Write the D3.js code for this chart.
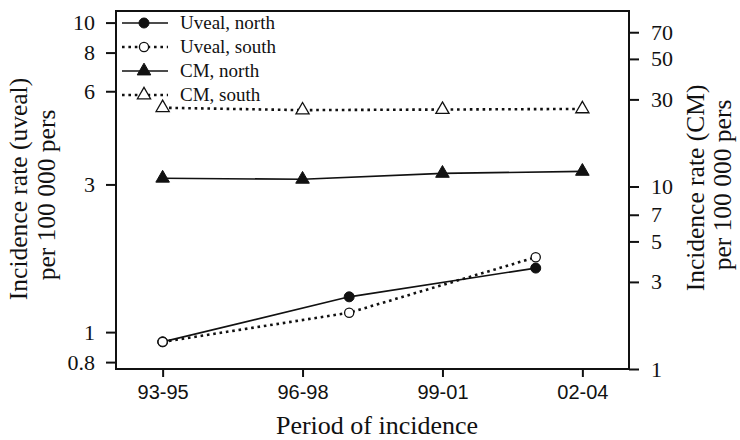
<!DOCTYPE html>
<html>
<head>
<meta charset="utf-8">
<script src="https://cdn.jsdelivr.net/npm/d3@7/dist/d3.min.js"></script>
<style>
  html, body { margin: 0; padding: 0; background: #fff; }
  svg { display: block; }
  .serif { font-family: "Liberation Serif", "Times New Roman", serif; fill: #111; }
  .sans { font-family: "Liberation Sans", Arial, sans-serif; fill: #111; }
</style>
</head>
<body>
<svg id="chart" width="740" height="440"></svg>
<script>
// Period labels on the x axis and their mid-years (1900-based)
const periodLabels = ["93-95", "96-98", "99-01", "02-04"];
const periodMid = [94, 97, 100, 103];

// Cutaneous melanoma (CM) incidence per 100 000, right axis
const cmNorth = [11.1, 10.95, 11.8, 12.1];
const cmSouth = [27.0, 26.2, 26.4, 26.6];

// Uveal melanoma incidence per 100 000, left axis (4-year periods)
const uvealYears = [94, 98, 102];
const uvealNorth = [0.93, 1.30, 1.61];
const uvealSouth = [0.93, 1.155, 1.745];

// Axis tick values
const leftTicks = [0.8, 1, 3, 6, 8, 10];
const rightTicks = [1, 3, 5, 7, 10, 30, 50, 70];

const legendItems = [
  { label: "Uveal, north", dotted: false, shape: "circle", filled: true },
  { label: "Uveal, south", dotted: true, shape: "circle", filled: false },
  { label: "CM, north", dotted: false, shape: "triangle", filled: true },
  { label: "CM, south", dotted: true, shape: "triangle", filled: false }
];

const svg = d3.select("#chart");
const box = { left: 116, right: 629, top: 11, bottom: 369 };

const x = d3.scaleLinear().domain([93, 104]).range([box.left, box.right]);
const yL = d3.scaleLog().domain([0.76, 10.9]).range([box.bottom, box.top]);
const yR = d3.scaleLog().domain([1, 91.5]).range([box.bottom, box.top]);

const INK = "#111";

// Plot frame
svg.append("rect")
  .attr("x", box.left).attr("y", box.top)
  .attr("width", box.right - box.left).attr("height", box.bottom - box.top)
  .attr("fill", "none").attr("stroke", INK).attr("stroke-width", 2);

// Axes
function styleAxis(g, cls) {
  g.select(".domain").remove();
  g.selectAll(".tick line").attr("stroke", INK).attr("stroke-width", 2);
  g.selectAll(".tick text").attr("class", cls).attr("fill", INK);
}

const xAxis = d3.axisBottom(x)
  .tickValues(periodMid)
  .tickFormat((d, i) => periodLabels[i])
  .tickSize(8).tickPadding(8);
svg.append("g").attr("transform", `translate(0,${box.bottom})`).call(xAxis)
  .call(g => styleAxis(g, "sans"))
  .selectAll("text").style("font-size", "20px");

const leftAxis = d3.axisLeft(yL)
  .tickValues(leftTicks).tickFormat(d3.format("~g"))
  .tickSize(10).tickPadding(11);
svg.append("g").attr("transform", `translate(${box.left},0)`).call(leftAxis)
  .call(g => styleAxis(g, "serif"))
  .selectAll("text").style("font-size", "22px");

const rightAxis = d3.axisRight(yR)
  .tickValues(rightTicks).tickFormat(d3.format("~g"))
  .tickSize(10).tickPadding(12);
svg.append("g").attr("transform", `translate(${box.right},0)`).call(rightAxis)
  .call(g => styleAxis(g, "serif"))
  .selectAll("text").style("font-size", "22px");

// Axis titles
svg.append("text").attr("class", "serif")
  .attr("x", 377).attr("y", 434).attr("text-anchor", "middle")
  .style("font-size", "26px").text("Period of incidence");

// Rotated two-line titles: each line gets its own baseline (x) and centre (y)
function vLine(baseX, centerY, s) {
  svg.append("text").attr("class", "serif")
    .attr("transform", `translate(${baseX},${centerY}) rotate(-90)`)
    .attr("text-anchor", "middle").style("font-size", "25.5px").text(s);
}
vLine(27, 189, "Incidence rate (uveal)");
vLine(55, 195, "per 100 000 pers");
vLine(704, 188, "Incidence rate (CM)");
vLine(731, 185, "per 100 000 pers");

// Series drawing
const DOTTED = "2.6 3.8";
function drawLine(xs, ys, yScale, dotted) {
  const pts = xs.map((v, i) => [x(v), yScale(ys[i])]);
  svg.append("path")
    .attr("d", d3.line()(pts))
    .attr("fill", "none").attr("stroke", INK)
    .attr("stroke-width", dotted ? 2.6 : 1.6)
    .attr("stroke-dasharray", dotted ? DOTTED : null);
  return pts;
}
function marker(g, cx, cy, shape, filled) {
  if (shape === "circle") {
    g.append("circle").attr("cx", cx).attr("cy", cy).attr("r", filled ? 5 : 4.6)
      .attr("fill", filled ? INK : "#fff").attr("stroke", INK).attr("stroke-width", filled ? 1 : 1.3);
  } else {
    const s = d3.symbol().type(d3.symbolTriangle).size(filled ? 80 : 75);
    g.append("path").attr("d", s()).attr("transform", `translate(${cx},${cy})`)
      .attr("fill", filled ? INK : "#fff").attr("stroke", INK).attr("stroke-width", filled ? 1 : 1.3);
  }
}

const cmSouthPts = drawLine(periodMid, cmSouth, yR, true);
const cmNorthPts = drawLine(periodMid, cmNorth, yR, false);
const uvNorthPts = drawLine(uvealYears, uvealNorth, yL, false);
const uvSouthPts = drawLine(uvealYears, uvealSouth, yL, true);

const mk = svg.append("g");
cmSouthPts.forEach(p => marker(mk, p[0], p[1], "triangle", false));
cmNorthPts.forEach(p => marker(mk, p[0], p[1], "triangle", true));
uvNorthPts.forEach(p => marker(mk, p[0], p[1], "circle", true));
uvSouthPts.forEach(p => marker(mk, p[0], p[1], "circle", false));

// Legend
const lg = svg.append("g");
legendItems.forEach((d, i) => {
  const ly = 23 + i * 24;
  lg.append("line").attr("x1", 122).attr("x2", 168).attr("y1", ly).attr("y2", ly)
    .attr("stroke", INK).attr("stroke-width", d.dotted ? 2.6 : 1.6)
    .attr("stroke-dasharray", d.dotted ? DOTTED : null);
  marker(lg, 144, ly, d.shape, d.filled);
  lg.append("text").attr("class", "serif").attr("x", 180).attr("y", ly + 6)
    .style("font-size", "19px").text(d.label);
});
</script>
</body>
</html>
